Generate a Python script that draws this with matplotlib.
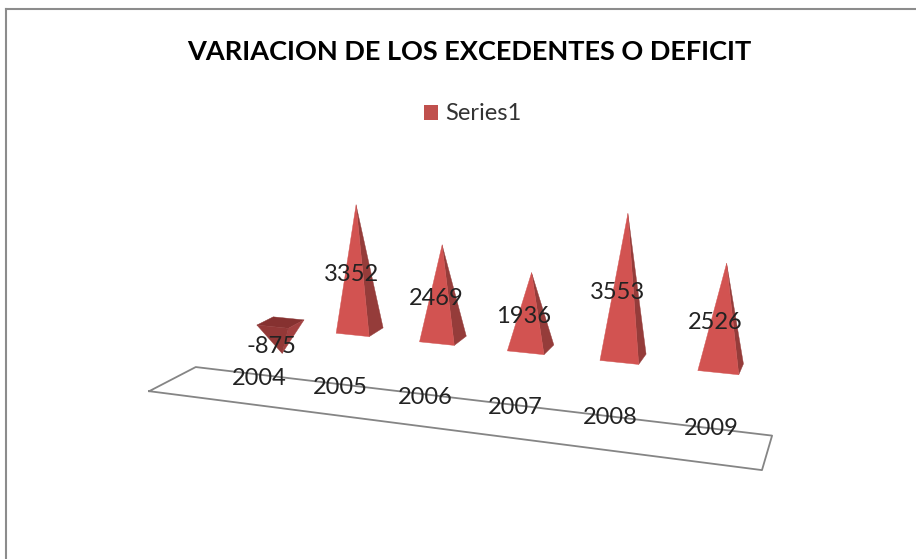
import matplotlib
matplotlib.use("Agg")
import matplotlib.pyplot as plt
from matplotlib.lines import Line2D
from matplotlib.patches import Patch
from mpl_toolkits.mplot3d import proj3d
from mpl_toolkits.mplot3d.art3d import Poly3DCollection

years = ["2004", "2005", "2006", "2007", "2008", "2009"]
values = [-875, 3352, 2469, 1936, 3553, 2526]
series_name = "Series1"
title = "VARIACION DE LOS EXCEDENTES O DEFICIT"

W, H = 916, 559
plt.rcParams["font.family"] = ["Lato", "DejaVu Sans"]

fig = plt.figure(figsize=(W / 100, H / 100), dpi=100)

# axes box and camera, fitted by hand against the picture
ax = fig.add_axes([130.97 / W, -101.69 / H, 692.1 / W, 692.1 / H], projection="3d")
ax.set_xlim(-1, 6)
ax.set_ylim(-1, 1)
ax.set_zlim(-2000, 4000)
ax.set_xticks([])
ax.set_yticks([])
ax.set_zticks([])
ax.set_axis_off()
ax.view_init(14.92, -70.68)
ax.set_proj_type("persp", focal_length=0.304)
ax.set_box_aspect((1, 0.22, 0.3636))
ax.patch.set_visible(False)

half_x, half_y = 0.2011, 0.2404
floor_x = (-1.438, 5.5169)
floor_y = (-0.752, 0.4902)
floor_z = -1904

for i, v in enumerate(values):
    fl = (i - half_x, -half_y, 0)
    fr = (i + half_x, -half_y, 0)
    br = (i + half_x, half_y, 0)
    bl = (i - half_x, half_y, 0)
    tip = (i, 0, v)
    if v >= 0:
        faces = [[fl, fr, tip], [fr, br, tip]]
        colors = ["#D25351", "#953C3A"]
    else:
        faces = [[fl, fr, br, bl], [fl, fr, tip], [fr, br, tip]]
        colors = ["#863130", "#933837", "#A34040"]
    ax.add_collection3d(
        Poly3DCollection(faces, facecolors=colors, edgecolors=colors, linewidths=0.3, shade=False)
    )

ax.plot(
    [floor_x[0], floor_x[1], floor_x[1], floor_x[0], floor_x[0]],
    [floor_y[0], floor_y[0], floor_y[1], floor_y[1], floor_y[0]],
    [floor_z] * 5,
    color="#858585",
    lw=1.3,
)


def label_3d(x, y, z, s):
    # projected by hand so the text has a real 2d position
    u, v, _ = proj3d.proj_transform(x, y, z, ax.get_proj())
    ax.text2D(u, v, s, transform=ax.transData, fontsize=17, color="#222222",
              ha="center", va="center", zorder=100)


for i, v in enumerate(values):
    if v >= 0:
        label_3d(i - 0.08, 0, v / 2 - 170, str(v))
    else:
        label_3d(i - 0.14, 0, v * 0.6 - 200, str(v))
    label_3d(i * 1.053 - 0.325, 0, -1690 + 23 * i, years[i])

fig.text(469 / W, 1 - 52 / H, title, fontsize=19.5, fontweight="bold", color="black",
         ha="center", va="center")

fig.legend(
    handles=[Patch(facecolor="#C0504D", edgecolor="none", label=series_name)],
    loc="center",
    bbox_to_anchor=(473 / W, 1 - 114 / H),
    frameon=False,
    fontsize=17,
    labelcolor="#333333",
    handlelength=0.6,
    handleheight=0.6,
    handletextpad=0.3,
)

# chart frame, only top and left show
fig.add_artist(Line2D([6 / W, 6 / W], [0, 1 - 9 / H], color="#8C8C8C", lw=1.5))
fig.add_artist(Line2D([6 / W, 1], [1 - 9 / H, 1 - 9 / H], color="#8C8C8C", lw=1.5))

fig.savefig("out.png", dpi=100)
